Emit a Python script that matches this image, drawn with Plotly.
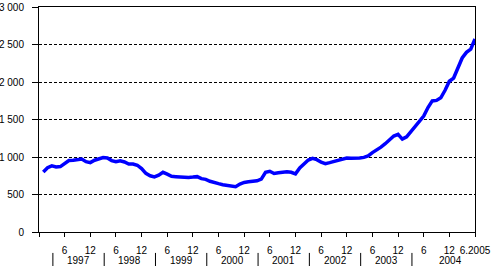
import plotly.graph_objects as go

# monthly values, 1/1997 .. 6/2005
values = [800, 858, 882, 868, 872, 912, 953, 956, 964, 973, 938, 925,
          957, 980, 993, 987, 952, 936, 949, 934, 907, 907, 890, 845,
          782, 750, 735, 758, 796, 771, 742, 738, 734, 724, 728, 732,
          738, 711, 702, 676, 655, 645, 631, 624, 618, 605, 640, 661,
          669, 672, 683, 705, 796, 810, 780, 790, 802, 804, 796, 775,
          855, 910, 960, 982, 964, 930, 912, 925, 940, 955, 960, 985,
          983, 983, 988, 995, 1014, 1058, 1093, 1132, 1177, 1222, 1279, 1301,
          1239, 1270, 1337, 1400, 1475, 1546, 1660, 1748, 1755, 1790, 1890, 2010,
          2053, 2180, 2320, 2395, 2437, 2575]
months = list(range(len(values)))

month_tick_vals = [5, 11, 17, 23, 29, 35, 41, 47, 53, 59, 65, 71, 77, 83, 89, 95, 101]
month_tick_text = ["6", "12", "6", "12", "6", "12", "6", "12", "6", "12",
                   "6", "12", "6", "12", "6", "12", "6.2005"]
years = ["1997", "1998", "1999", "2000", "2001", "2002", "2003", "2004"]
year_label_pos = [8.25, 20.25, 32.25, 44.25, 56.25, 68.25, 80.25, 95.25]
year_sep_pos = [2.25, 14.25, 26.25, 38.25, 50.25, 62.25, 74.25, 86.25]

y_tick_vals = [0, 500, 1000, 1500, 2000, 2500, 3000]
y_tick_text = ["0", "500", "1 000", "1 500", "2 000", "2 500", "3 000"]

FONT = "Liberation Sans, Arial, sans-serif"

fig = go.Figure()
fig.add_trace(go.Scatter(x=months, y=values, mode="lines",
                         line=dict(color="#0000FF", width=3.5),
                         hoverinfo="skip", cliponaxis=False))

fig.update_layout(
    width=492, height=266,
    margin=dict(l=39, r=17, t=7, b=34, autoexpand=False),
    paper_bgcolor="white", plot_bgcolor="white",
    showlegend=False,
    font=dict(family=FONT, size=10, color="black"),
)
fig.update_xaxes(
    range=[-1, 101], showgrid=False, zeroline=False, automargin=False,
    showline=True, linecolor="black", linewidth=1, mirror=True,
    tickmode="array", tickvals=[-1] + month_tick_vals, ticktext=[""] + month_tick_text,
    ticks="outside", ticklen=4, tickcolor="black", tickwidth=1,
    ticklabelstandoff=5,
    tickfont=dict(family=FONT, size=10, color="black"),
)
fig.update_yaxes(
    range=[0, 3000], zeroline=False, automargin=False,
    showline=True, linecolor="black", linewidth=1, mirror=True,
    tickmode="array", tickvals=y_tick_vals, ticktext=y_tick_text,
    ticks="outside", ticklen=6, tickcolor="black", tickwidth=1,
    ticklabelstandoff=6,
    showgrid=True, gridcolor="black", gridwidth=1, griddash="3px,2px",
    tickfont=dict(family=FONT, size=10, color="black"),
)

for yr, pos in zip(years, year_label_pos):
    fig.add_annotation(x=pos, xref="x", y=-0.1267, yref="paper",
                       text=yr, showarrow=False, xanchor="center", yanchor="middle",
                       height=11, borderpad=0,
                       font=dict(family=FONT, size=10, color="black"))
for pos in year_sep_pos:
    fig.add_shape(type="line", xref="x", yref="paper", x0=pos, x1=pos,
                  y0=-0.093, y1=-0.16, line=dict(color="black", width=1))

fig.write_html("out.html")
